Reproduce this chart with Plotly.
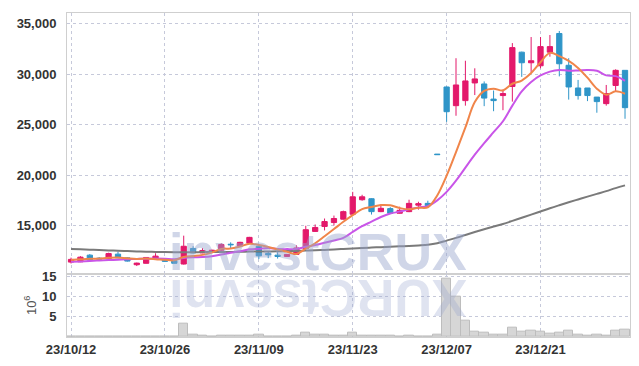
import plotly.graph_objects as go
from plotly.subplots import make_subplots

dates = ["23/10/12","23/10/13","23/10/16","23/10/17","23/10/18","23/10/19","23/10/20","23/10/23","23/10/24","23/10/25",
         "23/10/26","23/10/27","23/10/30","23/10/31","23/11/01","23/11/02","23/11/03","23/11/06","23/11/07","23/11/08",
         "23/11/09","23/11/10","23/11/13","23/11/14","23/11/15","23/11/16","23/11/17","23/11/20","23/11/21","23/11/22",
         "23/11/23","23/11/24","23/11/27","23/11/28","23/11/29","23/11/30","23/12/01","23/12/04","23/12/05","23/12/06",
         "23/12/07","23/12/08","23/12/11","23/12/12","23/12/13","23/12/14","23/12/15","23/12/18","23/12/19","23/12/20",
         "23/12/21","23/12/22","23/12/26","23/12/27","23/12/28","24/01/02","24/01/03","24/01/04","24/01/05","24/01/08"]

open_ = [11400,11430,12090,11790,11720,12190,11820,11140,11280,11790,
         11720,11530,11210,12750,12310,12380,12580,13170,13000,13290,
         12970,12260,12090,11960,12160,12750,14440,14930,15320,15650,
         16140,17580,17680,16400,16700,16240,16400,17040,17220,22100,
         28750,26900,27400,29150,29050,27550,27900,28800,32200,31150,
         30850,32200,34050,30900,28650,28650,27750,27100,28900,30400]
high = [11840,11990,12190,11890,12330,12430,11890,11350,11890,12280,
        11790,11550,14020,12970,12780,12630,13270,13360,13410,13900,
        13070,12480,12380,12190,13070,15000,15130,15720,16010,16500,
        18360,18070,17730,17090,16840,16890,17580,17380,17480,22100,
        28800,31600,31350,30600,29300,28400,28500,33100,32250,33700,
        33700,33900,34300,31600,29450,28650,27750,28950,30500,30400]
low = [11260,11400,11550,11650,11700,11790,11450,11010,11260,11750,
       11450,11260,11160,12280,12280,12330,12530,12780,12970,13270,
       11700,11790,11750,11940,12140,12730,14390,14540,15030,15620,
       16110,17480,16110,16350,16210,16210,16350,16600,16790,22050,
       25300,25900,26900,27950,26850,26350,26450,27300,29750,30200,
       30600,31750,29800,27500,27500,27350,26200,26900,28350,25600]
close = [11670,11890,11600,11700,12250,11820,11500,11300,11860,11990,
         11470,11280,12970,12310,12550,12580,13140,13120,13360,13850,
         12020,12120,11960,12160,12800,14610,14830,15420,15720,16400,
         17870,17870,16400,16730,16240,16530,17220,17190,16990,22050,
         26300,28950,29350,29550,27650,27400,28100,32650,31150,31350,
         32750,32750,31050,28750,27900,27900,27300,28100,30400,26700]

# volume in millions of shares
volume_m = [0.08,0.12,0.09,0.05,0.10,0.07,0.06,0.05,0.09,0.07,
            0.06,0.05,3.4,0.5,0.25,0.1,0.25,0.25,0.25,0.3,
            0.5,0.12,0.1,0.1,0.25,1.2,0.5,0.5,0.25,0.25,
            1.0,0.3,0.25,0.25,0.25,0.1,0.25,0.1,0.1,0.5,
            14.4,10.0,4.0,1.4,1.1,0.6,0.6,2.3,1.4,1.6,
            1.4,0.9,1.1,1.6,0.6,0.4,0.6,0.4,1.6,1.9]

ma5 = [11600,11680,11720,11760,11822,11852,11774,11714,11746,11694,
       11624,11580,11914,12004,12116,12338,12710,12740,12950,13210,
       13098,12894,12662,12422,12212,12730,13272,13964,14676,15396,
       16048,16656,16852,17054,17022,16754,16624,16782,16834,18006,
       19960,22306,24738,27250,28360,28580,28410,29070,29390,30130,
       31200,32130,31810,31330,30640,29670,28580,27990,28320,28080]
ma10 = [11430,11470,11520,11560,11600,11640,11680,11710,11740,11758,
        11738,11677,11814,11875,11905,11981,12145,12327,12477,12663,
        12718,12802,12701,12686,12711,12914,13083,13313,13549,13804,
        14389,14964,15408,15865,16209,16401,16640,16817,16944,17514,
        18357,19465,20760,22042,23183,24270,25358,26904,28320,29245,
        29890,30270,30440,30360,30385,30435,30355,29900,29825,29360]
ma60 = [12710,12670,12630,12590,12560,12520,12490,12460,12430,12410,
        12390,12380,12380,12380,12390,12390,12400,12410,12420,12440,
        12450,12460,12470,12490,12510,12540,12570,12610,12650,12700,
        12750,12800,12840,12880,12920,12960,13000,13050,13110,13260,
        13530,13800,14090,14380,14660,14920,15180,15480,15790,16100,
        16420,16740,17040,17330,17610,17890,18160,18430,18730,19000]

tick_dates = dates[0::10]
vol_ticks = [5, 10, 15]

UP = "#e3196b"
DOWN = "#2f95c8"
FONT = "Liberation Sans, Arial"

fig = make_subplots(rows=2, cols=1, shared_xaxes=True, vertical_spacing=0,
                    row_heights=[0.8045, 0.1955])

fig.add_trace(go.Candlestick(
    x=dates, open=open_, high=high, low=low, close=close,
    increasing=dict(line=dict(color=UP, width=1), fillcolor=UP),
    decreasing=dict(line=dict(color=DOWN, width=1), fillcolor=DOWN),
    whiskerwidth=0, showlegend=False, hoverinfo="skip"), row=1, col=1)

fig.add_trace(go.Scatter(x=dates, y=ma60, mode="lines",
                         line=dict(color="#7a7a7a", width=2, shape="spline"),
                         showlegend=False, hoverinfo="skip"), row=1, col=1)
fig.add_trace(go.Scatter(x=dates, y=ma10, mode="lines",
                         line=dict(color="#c955e8", width=2, shape="spline"),
                         showlegend=False, hoverinfo="skip"), row=1, col=1)
fig.add_trace(go.Scatter(x=dates, y=ma5, mode="lines",
                         line=dict(color="#f0854a", width=2, shape="spline"),
                         showlegend=False, hoverinfo="skip"), row=1, col=1)

fig.add_trace(go.Bar(x=dates, y=[v * 1e6 for v in volume_m],
                     marker=dict(color="#d6d6d6", line=dict(color="#bdbdbd", width=1)),
                     showlegend=False, hoverinfo="skip"), row=2, col=1)

grid = dict(showgrid=True, gridcolor="#c6c9da", griddash="dot", gridwidth=1,
            showline=True, linecolor="#cfcfcf", linewidth=1, mirror=True,
            zeroline=False, ticks="")
tickfont = dict(family=FONT, size=13, color="#333333", weight="bold")

fig.update_xaxes(type="category", range=[-0.43, 59.53], tickmode="array",
                 tickvals=tick_dates, ticktext=tick_dates, tickfont=tickfont,
                 rangeslider=dict(visible=False), **grid)
fig.update_xaxes(showticklabels=False, row=1, col=1)
fig.update_yaxes(range=[10255, 36080], tickvals=[15000, 20000, 25000, 30000, 35000],
                 tickformat=",d", tickfont=tickfont, ticklabelstandoff=7, row=1, col=1, **grid)
fig.update_yaxes(range=[0, 15.76e6], tickvals=[v * 1e6 for v in vol_ticks],
                 ticktext=[str(v) for v in vol_ticks], tickfont=tickfont, ticklabelstandoff=7,
                 title=dict(text="10<sup>6</sup>", font=dict(family="Liberation Sans, Arial", size=13, color="#555555"),
                            standoff=2),
                 row=2, col=1, **grid)

# watermark (logo text and its mirrored reflection)
wm_color = "rgba(150,163,205,0.45)"
wm_ref = "rgba(150,163,205,0.30)"
fig.add_annotation(text="investCRUX", xref="paper", yref="paper",
                   x=(318 - 66.7) / 564, y=(336.7 - 251) / 327.4,
                   xanchor="center", yanchor="middle", showarrow=False, height=46,
                   font=dict(family="Liberation Sans, Arial", size=52, color=wm_color, weight="bold"))
fig.add_annotation(text="investCRUX"[::-1], xref="paper", yref="paper", textangle=180,
                   x=(318 - 66.7) / 564, y=(336.7 - 298) / 327.4,
                   xanchor="center", yanchor="middle", showarrow=False, height=46,
                   font=dict(family="Liberation Sans, Arial", size=52, color=wm_ref, weight="bold"))

fig.update_layout(width=639, height=366, margin=dict(l=66.7, r=8.3, t=9.3, b=29.3),
                  paper_bgcolor="white", plot_bgcolor="white", bargap=0, boxgap=0.2,
                  showlegend=False)

fig.write_html("out.html", config={"displayModeBar": False},
               post_script="document.body.style.margin='0';document.body.style.overflow='hidden';")
